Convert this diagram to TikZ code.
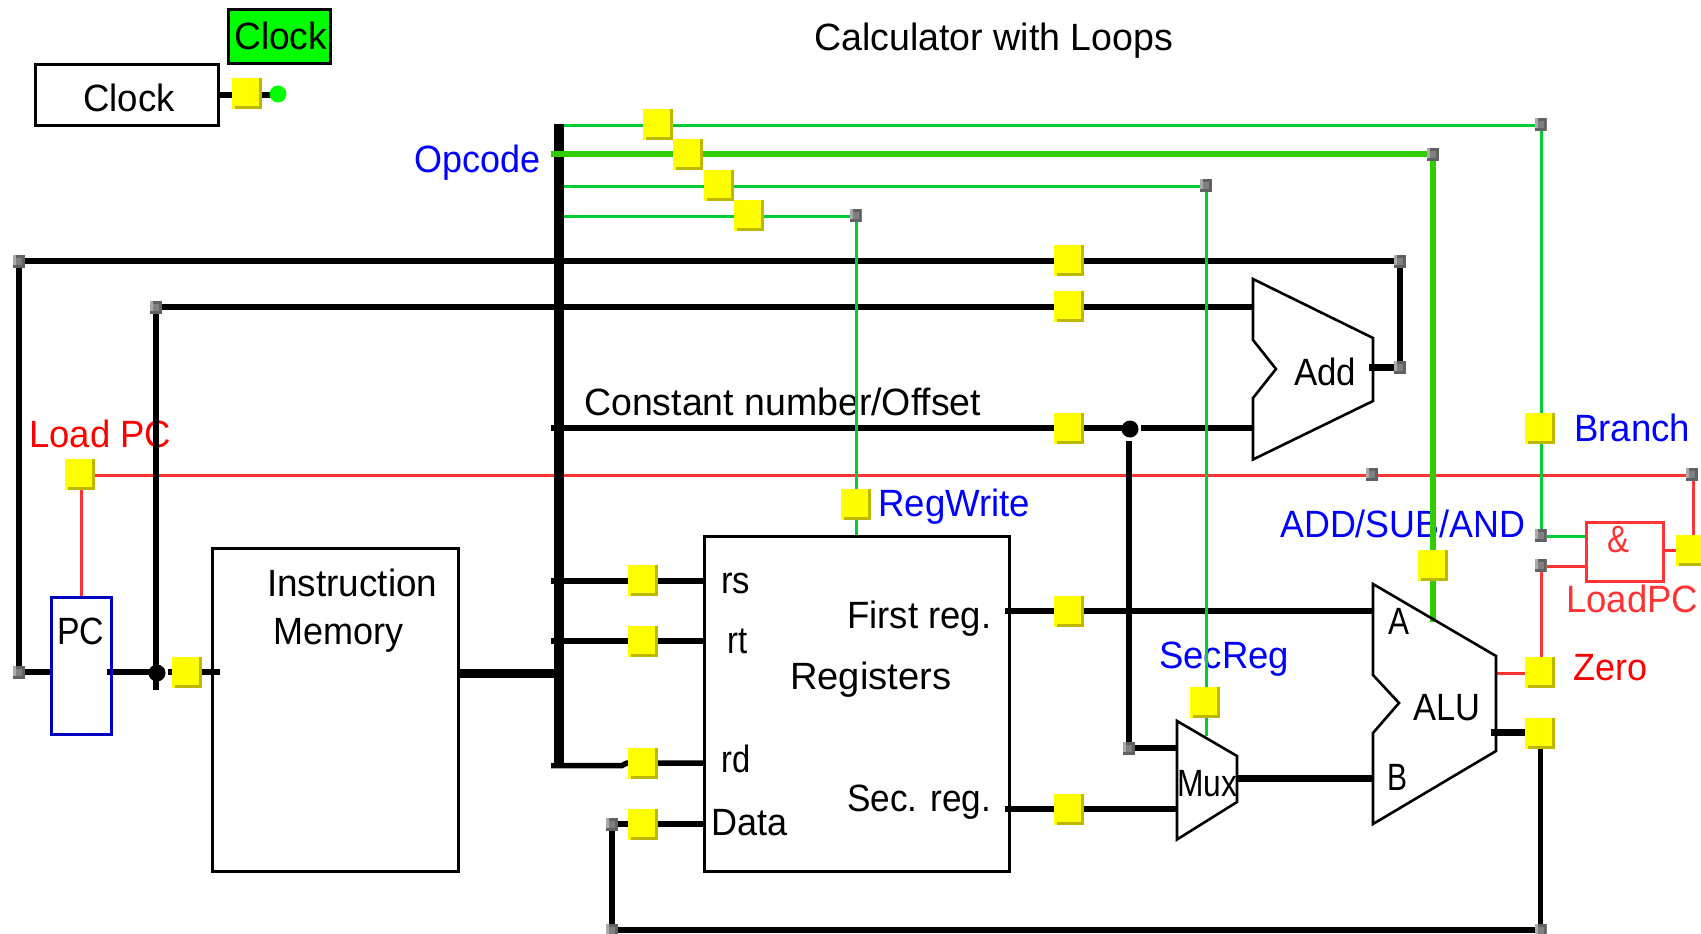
\documentclass[tikz,border=0pt]{standalone}
\usepackage{fontspec}
\usepackage{graphicx}
\setmainfont{Liberation Sans}
\usetikzlibrary{fit}
\pgfdeclarelayer{lab}
\pgfdeclarelayer{wire}
\pgfsetlayers{lab,wire,main}
\definecolor{wgreen}{HTML}{00CC33}
\definecolor{tgreen}{HTML}{33CC00}
\definecolor{wred}{HTML}{FF3333}
\definecolor{tred}{HTML}{FF0000}
\definecolor{tblue}{HTML}{0000FF}
\definecolor{pblue}{HTML}{0000C0}
\definecolor{pshade}{HTML}{BDB700}
\definecolor{pyellow}{HTML}{FFFF00}
\definecolor{pgreen}{HTML}{00FF00}
\newcommand\probe[3]{\node[probe] (#1) at (#2,#3) {};}
\newcommand\tap[3]{\node[tapnode] (#1) at (#2,#3) {};}
\newcommand\lab[6][black]{\node[anchor=base west,inner sep=0pt,text=#1] (#2) at (#3,#4) {\fontsize{38}{38}\selectfont\resizebox{#5pt}{\height}{#6}};}
\newcommand\bx[6]{\node[fit={(#2,#3)(#4,#5)},inner sep=0pt,outer sep=0pt,line width=3pt,draw,#6] (#1) {};}
\tikzset{
  probe/.style={rectangle,inner sep=0pt,outer sep=0pt,minimum width=30pt,minimum height=31pt,fill=pshade,
    path picture={
      \fill[pyellow] (path picture bounding box.north west) rectangle ([xshift=-3pt,yshift=3pt]path picture bounding box.south east);
      \fill[pyellow] (path picture bounding box.south west) rectangle ([xshift=3pt,yshift=3pt]path picture bounding box.south west);
    }},
  tapnode/.style={rectangle,inner sep=0pt,outer sep=0pt,minimum width=12pt,minimum height=13pt,fill=black!33,
    path picture={
      \fill[black!62] ([xshift=3pt,yshift=3pt]path picture bounding box.south west) rectangle (path picture bounding box.north east);
      \fill[black!62] (path picture bounding box.south west) rectangle ([yshift=3pt]path picture bounding box.south east);
      \fill[black!50] ([xshift=3pt,yshift=3pt]path picture bounding box.south west) rectangle ([xshift=-3pt,yshift=-3pt]path picture bounding box.north east);
    }},
  jdot/.style={circle,inner sep=0pt,outer sep=0pt,minimum size=17pt,fill=black},
  bk/.style={draw=black,line width=5.5pt},
  gw/.style={draw=wgreen,line width=3pt},
  gt/.style={draw=tgreen,line width=6.5pt},
  rw/.style={draw=wred,line width=3pt},
  poly/.style={draw=black,line width=2.6pt,line join=miter}
}
\begin{document}
\begin{tikzpicture}[x=1pt,y=-1pt]
\useasboundingbox (0,0) rectangle (1701,934);
% boxes
\bx{clockg}{228.5}{10}{330}{63.5}{fill=pgreen}
\bx{clockb}{35.5}{65}{218}{125}{}
\bx{pc}{51.5}{597}{111}{734}{draw=pblue}
\bx{imem}{212.5}{548}{458}{871}{}
\bx{regs}{704}{536}{1009.5}{871}{}
\bx{andb}{1586}{522}{1663}{581}{draw=wred}
\lab{tClockG}{234}{50}{93}{Clock}
% function blocks
\draw[poly] (1253,279) coordinate (addTL) -- (1373,338) -- (1373,401) -- (1253,459.5) -- (1253,398) -- (1276,369) -- (1253,340) -- cycle;
\draw[poly] (1373,584) coordinate (aluTL) -- (1496,656) -- (1496,751) -- (1373,824) -- (1373,733) -- (1399,703) -- (1373,675) -- cycle;
\draw[poly] (1177,721) coordinate (muxTL) -- (1237,756) -- (1237,802) -- (1177,839.5) -- cycle;
% junction coordinates
\coordinate (addIn1) at (1253,307);
\coordinate (addIn2) at (1253,428);
\coordinate (addOut) at (1369,367);
\coordinate (aluA) at (1373,611);
\coordinate (aluB) at (1373,778.5);
\coordinate (aluTop) at (1433,622);
\coordinate (aluZ) at (1496,673);
\coordinate (aluR) at (1491,732.5);
\coordinate (muxA) at (1177,748);
\coordinate (muxB) at (1177,809);
\coordinate (muxO) at (1237,778.5);
\coordinate (muxTop) at (1206.5,736);
\coordinate (busT) at (559,124);
\coordinate (busB) at (559,768);
\coordinate (imOut) at (458,673);
\coordinate (redS) at (95,475);
\coordinate (constS) at (551,428);
\coordinate (g1) at (564,125.5);
\coordinate (g2) at (551,154);
\coordinate (g3) at (564,186);
\coordinate (g4) at (564,216);
\coordinate (rsS) at (551,581);
\coordinate (rtS) at (551,641);
\coordinate (rdS) at (551,765.5);
\coordinate (rdM) at (622,765.5);
\coordinate (rdE) at (627,763);
\coordinate (pcR) at (107,672);
\coordinate (imS) at (168,672);
\coordinate (imE) at (220,672);
\coordinate (pcV) at (156,690);
\coordinate (constR) at (1141,428);
\coordinate (muxV) at (1129,441);
\coordinate (firstS) at (1005,611);
\coordinate (secS) at (1005,809);
\coordinate (clkW) at (219,95);
\coordinate (dataW) at (612,824);
% probes
\probe{pClk}{247}{93.5}
\probe{pT1}{658}{124}
\probe{pT2}{688}{154.5}
\probe{pT3}{718.5}{185}
\probe{pT4}{749}{215}
\probe{pPC}{186.5}{672}
\probe{pLoad}{80}{474}
\probe{pA}{1068.5}{260}
\probe{pB}{1068.5}{306}
\probe{pC}{1068.5}{428}
\probe{pRs}{642.5}{580.5}
\probe{pRt}{642.5}{641.5}
\probe{pRd}{642.5}{763.5}
\probe{pData}{642.5}{824}
\probe{pFirst}{1068.5}{611}
\probe{pSec}{1068.5}{809}
\probe{pRW}{855.5}{504.5}
\probe{pSecReg}{1205}{702.5}
\probe{pAdd}{1433}{565.5}
\probe{pBranch}{1539.5}{428}
\probe{pZero}{1539.5}{672}
\probe{pRes}{1539.5}{733}
\probe{pAnd}{1691}{550}
% taps
\tap{gA}{19}{261}
\tap{gB}{156}{307}
\tap{gPC}{19}{672}
\tap{gT1}{1540.5}{124}
\tap{gT2}{1433}{154}
\tap{gT3}{1206}{185}
\tap{gT4}{855.5}{215}
\tap{gR1}{1400}{261}
\tap{gR2}{1400}{367}
\tap{gRedA}{1372}{474}
\tap{gRedB}{1692}{474}
\tap{gBr}{1540.5}{535}
\tap{gZ}{1540.5}{565}
\tap{gMux}{1129}{748}
\tap{gData}{612}{824}
\tap{gBL}{612}{930}
\tap{gBR}{1540.5}{930}
% joints
\node[circle,inner sep=0pt,minimum size=17pt,fill=pgreen] (dot) at (278,94) {};
\node[jdot] (jPC) at (157,673) {};
\node[jdot] (jC) at (1130,429) {};
\begin{pgfonlayer}{lab}
\lab{tClock}{83}{111}{91.5}{Clock}
\lab{tTitle}{814}{51}{359}{Calculator with Loops}
\lab[tblue]{tOp}{414}{172}{126}{Opcode}
\lab[tred]{tLoad}{29}{447}{142}{Load PC}
\lab{tConst}{584}{415}{397}{Constant number/Offset}
\lab[tblue]{tBranch}{1574}{441}{116}{Branch}
\lab[tblue]{tRW}{878}{516}{152}{RegWrite}
\lab[tblue]{tASA}{1280}{537}{245}{ADD/SUB/AND}
\lab[tblue]{tSec}{1159}{668}{130}{SecReg}
\lab[tred]{tZero}{1573}{680}{74}{Zero}
\lab[wred]{tLPC}{1566}{612.5}{132}{LoadPC}
\lab[wred]{tAmp}{1607}{552}{22}{\&}
\lab{tPC}{57}{644}{47}{PC}
\lab{tIns}{267}{596}{170}{Instruction}
\lab{tMem}{273}{644}{130}{Memory}
\lab{tRs}{721}{593}{29}{rs}
\lab{tRt}{727}{653}{20}{rt}
\lab{tRd}{721}{772}{29}{rd}
\lab{tData}{711}{835}{76}{Data}
\lab{tFirst}{847}{628}{144}{First reg.}
\lab{tRegs}{790}{689}{161}{Registers}
\lab{tSecR}{847}{811}{144}{Sec. reg.}
\lab{tAdd}{1294}{385}{62}{Add}
\lab{tA}{1388}{634}{21}{A}
\lab{tALU}{1413}{720}{67}{ALU}
\lab{tB}{1387}{790}{20}{B}
\lab{tMux}{1177}{796}{60}{Mux}
\end{pgfonlayer}
\begin{pgfonlayer}{wire}
% red control wires
\draw[rw] (redS) -- (redS -| gRedB);
\draw[rw] (pc.north) -- (pc.north |- pLoad);
\draw[rw] (gRedB) ++(1,0) -- (pAnd.north -| 1693,0);
\draw[rw] (andb.east |- pAnd) -- (pAnd);
\draw[rw] (gZ.center |- 0,566) -- (andb.west |- 0,566);
\draw[rw] (gZ) ++(1,0) -- (pZero.north -| 1541.5,0);
\draw[rw] (aluZ) -- (aluZ -| pZero);
% black wires
\draw[bk] (clkW) -- (clkW -| dot);
\draw[bk] (gA) -- (gR1);
\draw[bk] (gA) -- (gPC);
\draw[bk] (gR1) -- (gR2);
\draw[bk,line width=7pt] (addOut) -- (gR2);
\draw[bk] (gB) -- (addIn1);
\draw[bk] (gB) -- (pcV);
\draw[bk] (gPC) -- (pc.west |- gPC);
\draw[bk] (pcR) -- (jPC.center |- pcR);
\draw[bk] (imS) -- (imE);
\draw[bk] (constS) -- (jC.center |- constS);
\draw[bk] (constR) -- (addIn2);
\draw[bk] (muxV) -- (gMux);
\draw[bk] (gMux) -- (muxA);
\draw[bk] (secS) -- (muxB);
\draw[bk] (firstS) -- (aluA);
\draw[bk,line width=6.5pt] (muxO) -- (aluB);
\draw[bk,line width=6.5pt] (aluR) -- (aluR -| pRes);
\draw[bk] (gBR |- pRes) -- (gBR);
\draw[bk] (gBR) -- (gBL);
\draw[bk] (gBL) -- (gData);
\draw[bk] (dataW) -- (dataW -| regs.west);
\draw[bk] (rsS) -- (rsS -| regs.west);
\draw[bk] (rtS) -- (rtS -| regs.west);
\draw[bk] (rdS) -- (rdM) -- (rdE) -- (rdE -| regs.west);
\draw[draw=black,line width=10pt] (busT) -- (busB);
\draw[draw=black,line width=9pt] (imOut) -- (busB |- imOut);
% green control wires
\draw[gw] (g1) -- (g1 -| gT1);
\draw[gw] (gT1) ++(1,0) -- (gBr.center -| 1541.5,0);
\draw[gw] (gBr) ++(0,1) -- (andb.west |- 0,536);
\draw[gt] (g2) -- (g2 -| gT2);
\draw[gt] (gT2) -- (aluTop);
\draw[gw] (g3) -- (g3 -| gT3);
\draw[gw] (gT3) ++(0.5,0) -- (muxTop);
\draw[gw] (g4) -- (g4 -| gT4);
\draw[gw] (gT4) ++(1,0) -- (regs.north -| 856.5,0);
\end{pgfonlayer}
\end{tikzpicture}
\end{document}
